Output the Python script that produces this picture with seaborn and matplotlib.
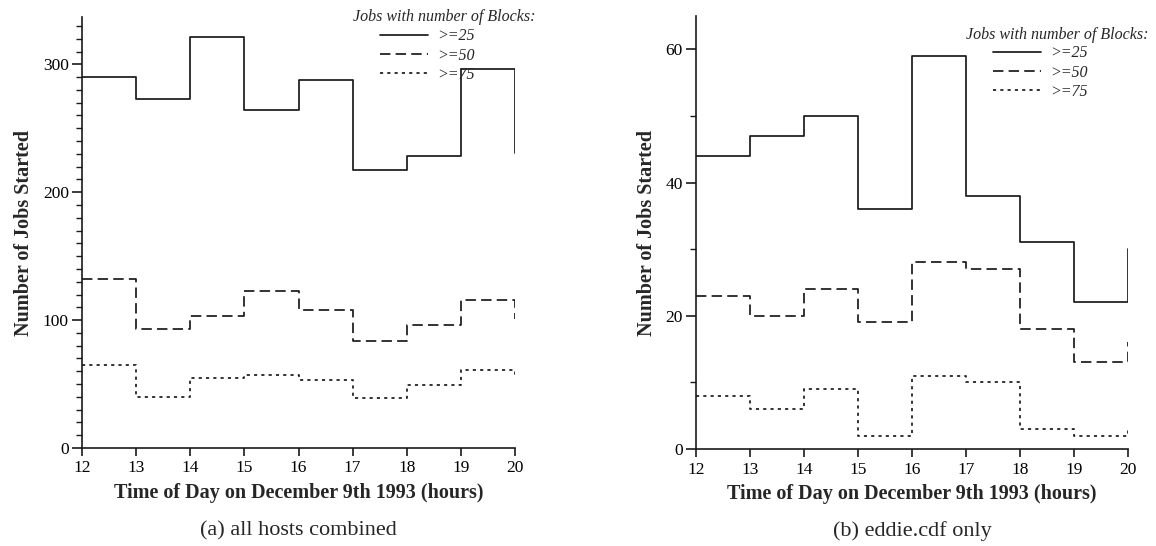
import numpy as np
import pandas as pd
import matplotlib
matplotlib.use("Agg")
import matplotlib.pyplot as plt
from matplotlib.ticker import MultipleLocator
import seaborn as sns

# Hourly job-start counts, one value per hour mark (12..20)
hours = [12, 13, 14, 15, 16, 17, 18, 19, 20]
block_levels = [">=25", ">=50", ">=75"]

all_ge25 = [290, 273, 321, 264, 288, 217, 228, 296, 231]
all_ge50 = [132, 93, 103, 123, 108, 84, 96, 116, 101]
all_ge75 = [65, 40, 55, 57, 53, 39, 49, 61, 55]

eddie_ge25 = [44, 47, 50, 36, 59, 38, 31, 22, 30]
eddie_ge50 = [23, 20, 24, 19, 28, 27, 18, 13, 16]
eddie_ge75 = [8, 6, 9, 2, 11, 10, 3, 2, 3]

x_label = "Time of Day on December 9th 1993 (hours)"
y_label = "Number of Jobs Started"
legend_title = "Jobs with number of Blocks:"
captions = ["(a) all hosts combined", "(b) eddie.cdf only"]


def long_frame(series):
    rows = []
    for level, vals in zip(block_levels, series):
        for h, v in zip(hours, vals):
            rows.append({"hour": h, "jobs": v, "blocks": level})
    return pd.DataFrame(rows)


sns.set_theme(style="ticks")
plt.rcParams["font.family"] = ["Liberation Serif", "DejaVu Serif"]
plt.rcParams["axes.linewidth"] = 1.2
plt.rcParams["xtick.major.width"] = 1.2
plt.rcParams["ytick.major.width"] = 1.2
plt.rcParams["ytick.minor.width"] = 1.0

INK = "#1a1a1a"
LW = 1.25
dash_map = {">=25": "", ">=50": (6.0, 3.0), ">=75": (1.8, 2.4)}

fig = plt.figure(figsize=(11.56, 5.46), dpi=100)
W, H = 1156, 546

panels = [
    dict(series=[all_ge25, all_ge50, all_ge75], box=(82, 17, 515, 448),
         ymax=337, major=100, minor=10, caption_x=298,
         title_y=0.9999, keys_top=0.9735),
    dict(series=[eddie_ge25, eddie_ge50, eddie_ge75], box=(696, 16, 1128, 449),
         ymax=65, major=20, minor=10, caption_x=912,
         title_y=0.9565, keys_top=0.9320),
]

for i, p in enumerate(panels):
    x0, y0, x1, y1 = p["box"]
    ax = fig.add_axes([x0 / W, (H - y1) / H, (x1 - x0) / W, (y1 - y0) / H])
    df = long_frame(p["series"])
    sns.lineplot(data=df, x="hour", y="jobs", style="blocks", dashes=dash_map,
                 color=INK, linewidth=LW, drawstyle="steps-post",
                 legend=False, ax=ax)
    ax.set_xlim(12, 20)
    ax.set_ylim(0, p["ymax"])
    ax.set_xticks(hours)
    ax.yaxis.set_major_locator(MultipleLocator(p["major"]))
    ax.yaxis.set_minor_locator(MultipleLocator(p["minor"]))
    ax.tick_params(axis="both", which="major", labelsize=12.5,
                   color=INK, labelcolor="black")
    ax.tick_params(axis="x", which="major", length=6, pad=3)
    ax.tick_params(axis="y", which="major", length=7.5, pad=2)
    ax.tick_params(axis="y", which="minor", length=4, color=INK)
    for s in ("left", "bottom"):
        ax.spines[s].set_color(INK)
    sns.despine(ax=ax)
    ax.set_xlabel(x_label, fontsize=14.5, fontweight="bold", labelpad=5)
    ax.set_ylabel(y_label, fontsize=14.5, fontweight="bold", labelpad=6)

    # legend: italic heading above the line-style keys
    ax.text(0.626, p["title_y"], legend_title, transform=ax.transAxes,
            fontsize=11.5, fontstyle="italic", ha="left", va="center")
    ax.legend(ax.lines[:3], block_levels, loc="upper left",
              bbox_to_anchor=(0.688, p["keys_top"]), frameon=False,
              borderpad=0, borderaxespad=0, handlelength=3.0,
              handletextpad=0.56, labelspacing=0.2,
              prop={"style": "italic", "size": 11.5})

    fig.text(p["caption_x"] / W, 1 - 531 / H, captions[i], fontsize=16,
             ha="center", va="center")

fig.savefig("out.png", dpi=100)
